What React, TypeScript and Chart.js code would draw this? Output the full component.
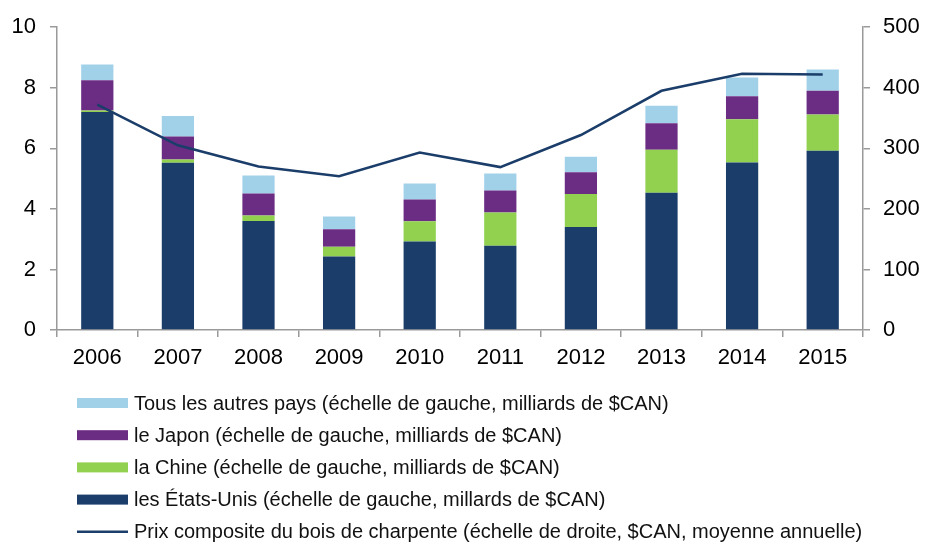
import { useEffect, useRef } from "react";
import { Chart, registerables } from "chart.js";

Chart.register(...registerables);

const years = ["2006", "2007", "2008", "2009", "2010", "2011", "2012", "2013", "2014", "2015"];
const usa = [7.2, 5.52, 3.6, 2.43, 2.92, 2.78, 3.4, 4.53, 5.53, 5.92];
const china = [0.05, 0.11, 0.18, 0.32, 0.67, 1.1, 1.09, 1.42, 1.43, 1.2];
const japan = [1.0, 0.76, 0.73, 0.58, 0.72, 0.73, 0.72, 0.88, 0.76, 0.78];
const others = [0.52, 0.68, 0.59, 0.42, 0.53, 0.56, 0.51, 0.58, 0.62, 0.7];
const lumberPrice = [372, 305, 270, 254, 293, 269, 322, 395, 423, 422];

const labelUsa = "les États-Unis (échelle de gauche, millards de $CAN)";
const labelChina = "la Chine (échelle de gauche, milliards de $CAN)";
const labelJapan = "le Japon (échelle de gauche, milliards de $CAN)";
const labelOthers = "Tous les autres pays (échelle de gauche, milliards de $CAN)";
const labelPrice = "Prix composite du bois de charpente (échelle de droite, $CAN, moyenne annuelle)";

const NAVY = "#1b3d6a";
const GREEN = "#92d050";
const PURPLE = "#6b2c83";
const LIGHT = "#a0d1e8";
const AXIS = "#9a9a9a";
const FONT = "'Liberation Sans', Arial, sans-serif";

const legendPlugin = {
  id: "stackLegend",
  afterDraw(chart: any) {
    const ctx = chart.ctx;
    const area = chart.chartArea;
    const order = [3, 2, 1, 0, 4];
    const startY = area.bottom + 73;
    const gap = 32.2;
    ctx.save();
    ctx.font = `20px ${FONT}`;
    ctx.textBaseline = "middle";
    ctx.textAlign = "left";
    order.forEach((di, i) => {
      const ds = chart.data.datasets[di];
      const y = startY + i * gap;
      if (ds.type === "line") {
        ctx.strokeStyle = ds.borderColor;
        ctx.lineWidth = 2.5;
        ctx.beginPath();
        ctx.moveTo(77, y);
        ctx.lineTo(128, y);
        ctx.stroke();
      } else {
        ctx.fillStyle = ds.backgroundColor;
        ctx.fillRect(77, y - 5, 51, 10);
      }
      ctx.fillStyle = "#111";
      ctx.fillText(ds.label, 134, y + 1);
    });
    ctx.restore();
  },
};

export default function App() {
  const ref = useRef<HTMLCanvasElement>(null);
  useEffect(() => {
    if (!ref.current) return;
    const tickFont = { family: FONT, size: 22 };
    const chart = new Chart(ref.current, {
      type: "bar",
      data: {
        labels: years,
        datasets: [
          { type: "bar", label: labelUsa, data: usa, backgroundColor: NAVY, yAxisID: "y", stack: "s", order: 1 },
          { type: "bar", label: labelChina, data: china, backgroundColor: GREEN, yAxisID: "y", stack: "s", order: 1 },
          { type: "bar", label: labelJapan, data: japan, backgroundColor: PURPLE, yAxisID: "y", stack: "s", order: 1 },
          { type: "bar", label: labelOthers, data: others, backgroundColor: LIGHT, yAxisID: "y", stack: "s", order: 1 },
          {
            type: "line",
            label: labelPrice,
            data: lumberPrice,
            borderColor: NAVY,
            backgroundColor: NAVY,
            borderWidth: 2.5,
            pointRadius: 0,
            tension: 0,
            yAxisID: "y1",
            order: 0,
          },
        ] as any,
      },
      options: {
        responsive: false,
        animation: false,
        devicePixelRatio: 1,
        layout: { padding: { left: 0, right: 0, top: 21, bottom: 172 } },
        plugins: { legend: { display: false }, tooltip: { enabled: false } },
        datasets: { bar: { barPercentage: 0.4, categoryPercentage: 1 } },
        scales: {
          x: {
            stacked: true,
            offset: true,
            grid: { offset: true, drawOnChartArea: false, drawTicks: true, tickLength: 7, color: AXIS, lineWidth: 1.5 },
            border: { display: true, color: AXIS, width: 1.5 },
            ticks: { color: "#000", font: tickFont, padding: 8, maxRotation: 0 },
            afterFit(scale: any) {
              scale.height = 40;
            },
          },
          y: {
            stacked: true,
            position: "left",
            min: 0,
            max: 10,
            ticks: { stepSize: 2, color: "#000", font: tickFont, padding: 14 },
            grid: { drawOnChartArea: false, drawTicks: true, tickLength: 7, color: AXIS, lineWidth: 1.5 },
            border: { display: true, color: AXIS, width: 1.5 },
            afterFit(scale: any) {
              scale.width = 57;
            },
          },
          y1: {
            position: "right",
            min: 0,
            max: 500,
            ticks: { stepSize: 100, color: "#000", font: tickFont, padding: 13 },
            grid: { drawOnChartArea: false, drawTicks: true, tickLength: 7, color: AXIS, lineWidth: 1.5 },
            border: { display: true, color: AXIS, width: 1.5 },
            afterFit(scale: any) {
              scale.width = 62;
            },
          },
        },
      } as any,
      plugins: [legendPlugin],
    });
    return () => chart.destroy();
  }, []);
  return (
    <div style={{ position: "fixed", left: 0, top: 0, width: 925, height: 542, background: "#fff" }}>
      <canvas ref={ref} width={925} height={542} style={{ display: "block" }} />
    </div>
  );
}
